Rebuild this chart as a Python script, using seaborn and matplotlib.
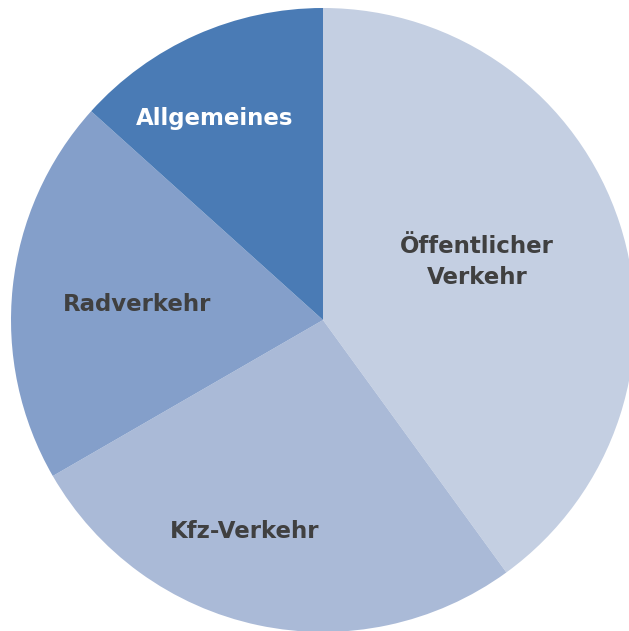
import matplotlib
matplotlib.use("Agg")
import matplotlib.pyplot as plt
import seaborn as sns

# data (shares)
categories = ["Öffentlicher\nVerkehr", "Kfz-Verkehr", "Radverkehr", "Allgemeines"]
values = [12, 8, 6, 4]
colors = ["#C4CFE2", "#AABAD7", "#849FCA", "#4A7BB5"]
text_colors = ["#404040", "#404040", "#404040", "#FFFFFF"]

# label positions inside the wedges (data coords, pie radius = 1)
label_xy = [(0.494, 0.186), (-0.250, -0.679), (-0.596, 0.051), (-0.346, 0.647)]

sns.set_style("white")
plt.rcParams["font.family"] = ["DejaVu Sans"]

fig = plt.figure(figsize=(6.29, 6.31), dpi=100)
ax = fig.add_axes([11 / 629, -1 / 631, 624 / 629, 624 / 631])

wedges, _ = ax.pie(values, colors=sns.color_palette(colors), startangle=90,
                   counterclock=False, radius=1,
                   wedgeprops=dict(linewidth=0))

for (x, y), lab, c in zip(label_xy, categories, text_colors):
    ax.text(x, y, lab, ha="center", va="center", fontsize=16.5,
            fontweight="bold", color=c, linespacing=1.45)

ax.set_xlim(-1, 1)
ax.set_ylim(-1, 1)
ax.set_aspect("equal")
ax.axis("off")

fig.savefig("out.png", dpi=100)
